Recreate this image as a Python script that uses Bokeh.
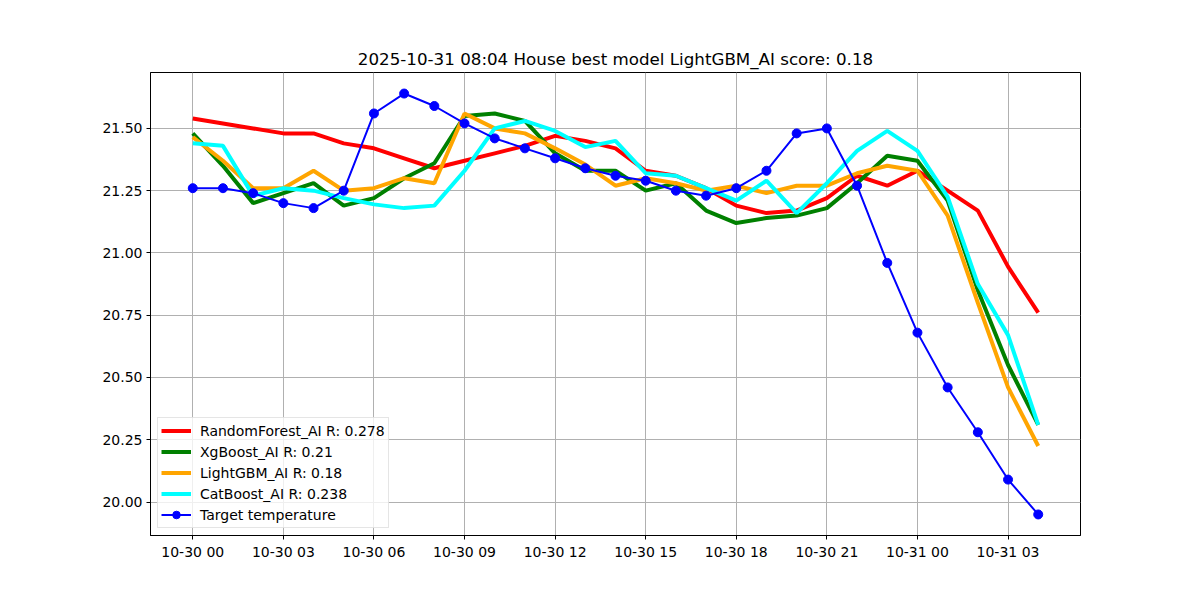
import pandas as pd
from bokeh.plotting import figure
from bokeh.models import (Range1d, FixedTicker, DatetimeTickFormatter,
                          NumeralTickFormatter, Legend)
from bokeh.embed import file_html
from bokeh.resources import INLINE

# Hourly forecast window
start = "2025-10-30 00:00"
n_hours = 29
times = pd.date_range(start, periods=n_hours, freq="h")

random_forest = [21.54, 21.52, 21.50, 21.48, 21.48, 21.44, 21.42, 21.38, 21.34, 21.37,
                 21.40, 21.43, 21.47, 21.45, 21.42, 21.33, 21.31, 21.26, 21.19, 21.16,
                 21.17, 21.22, 21.31, 21.27, 21.33, 21.25, 21.17, 20.945, 20.76]
xgboost = [21.48, 21.35, 21.20, 21.24, 21.28, 21.19, 21.22, 21.30, 21.36, 21.55,
           21.56, 21.53, 21.40, 21.33, 21.33, 21.25, 21.28, 21.17, 21.12, 21.14,
           21.15, 21.18, 21.28, 21.39, 21.37, 21.21, 20.85, 20.55, 20.31]
lightgbm = [21.465, 21.37, 21.26, 21.26, 21.33, 21.25, 21.26, 21.30, 21.28, 21.56,
            21.50, 21.48, 21.42, 21.355, 21.27, 21.30, 21.28, 21.25, 21.27, 21.24,
            21.27, 21.27, 21.32, 21.35, 21.33, 21.15, 20.80, 20.46, 20.225]
catboost = [21.44, 21.43, 21.23, 21.26, 21.25, 21.22, 21.195, 21.18, 21.19, 21.33,
            21.50, 21.53, 21.49, 21.425, 21.45, 21.32, 21.31, 21.26, 21.21, 21.29,
            21.16, 21.28, 21.41, 21.49, 21.41, 21.225, 20.875, 20.67, 20.31]
target = [21.26, 21.26, 21.24, 21.20, 21.18, 21.25, 21.56, 21.64, 21.59, 21.52,
          21.46, 21.42, 21.38, 21.34, 21.31, 21.29, 21.25, 21.23, 21.26, 21.33,
          21.48, 21.50, 21.27, 20.96, 20.68, 20.46, 20.28, 20.09, 19.95]

series_labels = ["RandomForest_AI R: 0.278", "XgBoost_AI R: 0.21",
                 "LightGBM_AI R: 0.18", "CatBoost_AI R: 0.238"]
series_colors = ["red", "green", "orange", "cyan"]
target_label = "Target temperature"
y_ticks = [20.00, 20.25, 20.50, 20.75, 21.00, 21.25, 21.50]
title_text = "2025-10-31 08:04 House best model LightGBM_AI score: 0.18"

FONT = "DejaVu Sans"
hour = pd.Timedelta(hours=1)

p = figure(width=1200, height=600, frame_width=930, frame_height=463,
           min_border_left=150, min_border_right=120, min_border_top=72,
           min_border_bottom=65, x_axis_type="datetime",
           output_backend="svg", toolbar_location=None, title=title_text)

p.x_range = Range1d(times[0] - 1.4 * hour, times[-1] + 1.4 * hour)
p.y_range = Range1d(19.8655, 21.7245)

legend_items = []
for vals, lab, col in zip([random_forest, xgboost, lightgbm, catboost],
                          series_labels, series_colors):
    r = p.line(times, vals, line_color=col, line_width=4)
    legend_items.append((lab, [r]))

tl = p.line(times, target, line_color="blue", line_width=2)
ts = p.scatter(times, target, size=9, fill_color="blue", line_color="blue")
legend_items.append((target_label, [tl, ts]))

legend = Legend(items=legend_items, location="bottom_left")
legend.margin = 7
legend.padding = 3
legend.spacing = 2
legend.glyph_width = 30
legend.glyph_height = 19
legend.label_height = 19
legend.label_standoff = 9
legend.label_text_font = FONT
legend.label_text_font_size = "14px"
legend.label_text_color = "black"
legend.border_line_color = "#cccccc"
legend.border_line_width = 1
legend.background_fill_alpha = 0.8
p.add_layout(legend)

# Title
p.title.text_font = FONT
p.title.text_font_size = "16.7px"
p.title.text_font_style = "normal"
p.title.text_color = "black"
p.title.align = "center"
p.title.standoff = 7

# Axes
tick_ms = [t.value // 10**6 for t in times[::3]]
p.xaxis.ticker = FixedTicker(ticks=tick_ms)
fmt = "%m-%d %H"
p.xaxis.formatter = DatetimeTickFormatter(hours=fmt, days=fmt, hourmin=fmt,
                                          minutes=fmt, months=fmt)
p.yaxis.ticker = FixedTicker(ticks=y_ticks)
p.yaxis.formatter = NumeralTickFormatter(format="0.00")

for ax in (p.xaxis, p.yaxis):
    ax.major_label_text_font = FONT
    ax.major_label_text_font_size = "14px"
    ax.major_label_text_color = "black"
    ax.axis_line_color = "black"
    ax.major_tick_line_color = "black"
    ax.major_tick_out = 4
    ax.major_tick_in = 0
    ax.minor_tick_line_color = None
    ax.major_label_standoff = 4

p.outline_line_color = "black"
p.outline_line_width = 1
p.outline_line_alpha = 1

p.grid.grid_line_color = "#b0b0b0"
p.grid.grid_line_width = 1
p.grid.grid_line_alpha = 1

open("out.html", "w").write(file_html(p, INLINE))
